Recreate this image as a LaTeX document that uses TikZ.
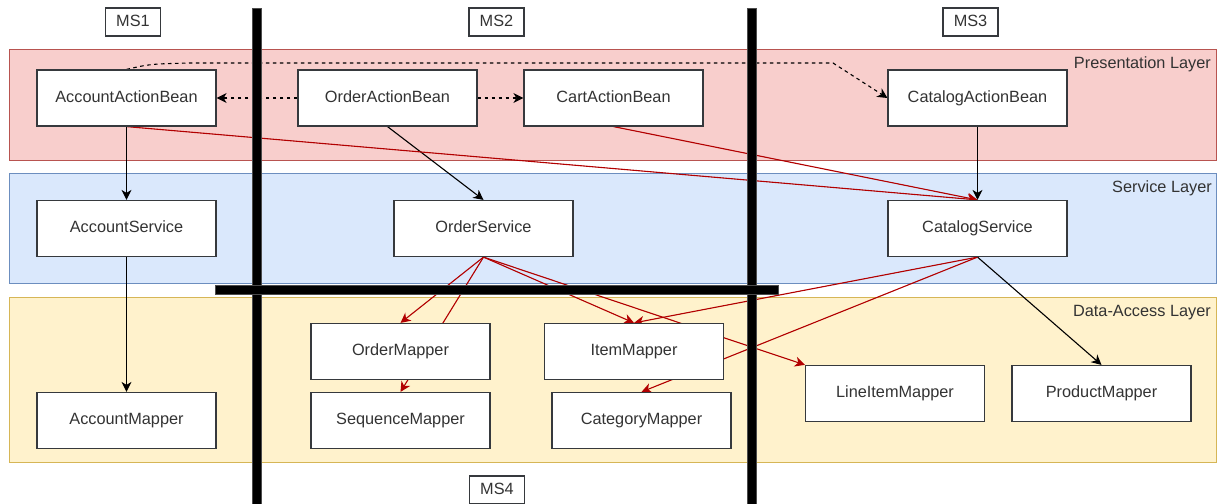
\documentclass[tikz,border=0pt]{standalone}
\usepackage{fontspec}
\setmainfont{Liberation Sans}
\usetikzlibrary{arrows.meta}
\pgfdeclarelayer{bg}
\pgfdeclarelayer{edges}
\pgfdeclarelayer{bars}
\pgfsetlayers{bg,edges,bars,main}
\definecolor{presfill}{HTML}{F8CECC}
\definecolor{presline}{HTML}{B85450}
\definecolor{servfill}{HTML}{DAE8FC}
\definecolor{servline}{HTML}{6C8EBF}
\definecolor{datafill}{HTML}{FFF2CC}
\definecolor{dataline}{HTML}{D6B656}
\definecolor{boxline}{HTML}{36393D}
\definecolor{txt}{HTML}{333333}
\definecolor{redline}{HTML}{B20000}
\begin{document}
\begin{tikzpicture}[x=1pt,y=-1pt,
  font=\fontsize{16.3}{19}\selectfont,
  comp/.style={draw=boxline, fill=white, line width=1.2pt, minimum width=179pt, minimum height=56pt, inner sep=0pt, text=txt, text height=11.7pt, text depth=3.4pt},
  mslabel/.style={draw=boxline, fill=white, line width=1.2pt, minimum width=55pt, minimum height=28pt, inner sep=0pt, text=txt, text height=11.7pt, text depth=3.4pt},
  layerlabel/.style={anchor=east, inner sep=0pt, text=txt, text height=11.7pt, text depth=3.4pt},
  tip/.style={-{Stealth[length=10pt,width=10pt,inset=3pt]}},
  blk/.style={tip, draw=black, line width=1.1pt},
  dsh/.style={tip, draw=black, line width=1.1pt, dash pattern=on 3.5pt off 3.5pt},
  red/.style={tip, draw=redline, fill=redline, line width=1.1pt},
  bar/.style={fill=black, draw=black!70, line width=0.5pt}]
\useasboundingbox (0,0) rectangle (1217,503);

% layers
\begin{pgfonlayer}{bg}
  \fill[white] (0,0) rectangle (1217,503);
  \draw[fill=presfill, draw=presline, line width=1pt] (9.5,50) rectangle (1216,160);
  \draw[fill=servfill, draw=servline, line width=1pt] (9.5,173) rectangle (1216,283);
  \draw[fill=datafill, draw=dataline, line width=1pt] (9.5,297) rectangle (1216,462);
\end{pgfonlayer}

\node[layerlabel] (lp) at (1211,64) {Presentation Layer};
\node[layerlabel] (ls) at (1212,188) {Service Layer};
\node[layerlabel] (ld) at (1211,312) {Data-Access Layer};

% microservice labels
\node[mslabel] (ms1) at (133,22) {MS1};
\node[mslabel] (ms2) at (496.5,22) {MS2};
\node[mslabel] (ms3) at (970.5,22) {MS3};
\node[mslabel] (ms4) at (497,490) {MS4};

% components
\node[comp] (aab) at (126.5,98) {AccountActionBean};
\node[comp] (oab) at (387.5,98) {OrderActionBean};
\node[comp] (cab) at (613.5,98) {CartActionBean};
\node[comp] (catab) at (977.5,98) {CatalogActionBean};
\node[comp] (as) at (126.5,228.5) {AccountService};
\node[comp] (os) at (483.5,228.5) {OrderService};
\node[comp] (cs) at (977.5,228.5) {CatalogService};
\node[comp] (om) at (400.5,351.5) {OrderMapper};
\node[comp] (sm) at (400.5,420.5) {SequenceMapper};
\node[comp] (im) at (634,351.5) {ItemMapper};
\node[comp] (cm) at (641.5,420.5) {CategoryMapper};
\node[comp] (lim) at (895,393.5) {LineItemMapper};
\node[comp] (pm) at (1101.5,393.5) {ProductMapper};
\node[comp] (am) at (126.5,420.5) {AccountMapper};

% partition bars
\begin{pgfonlayer}{bars}
  \draw[bar] (252.5,8) rectangle (261.5,504);
  \draw[bar] (747,8) rectangle (756,504);
  \draw[bar] (215,285) rectangle (778,294);
\end{pgfonlayer}

% connectors
\begin{pgfonlayer}{edges}
  \draw[blk] (aab.south) -- (as.north);
  \draw[blk] (as.south) -- (am.north);
  \draw[blk] (oab.south) -- (os.north);
  \draw[blk] (catab.south) -- (cs.north);
  \draw[blk] (cs.south) -- (pm.north);
  \draw[dsh] (oab.west) -- (aab.east);
  \draw[dsh] (oab.east) -- (cab.west);
  \coordinate (d1) at (190,63);
  \coordinate (d2) at (833,63);
  \draw[dsh] (aab.north) .. controls (150,64) .. (d1) -- (d2) -- (catab.west);
  \draw[red] (aab.south) -- (cs.north);
  \draw[red] (cab.south) -- (cs.north);
  \draw[red] (os.south) -- (om.north);
  \draw[red] (os.south) -- (sm.north);
  \draw[red] (os.south) -- (im.north);
  \draw[red] (os.south) -- (lim.north west);
  \draw[red] (cs.south) -- (im.north);
  \draw[red] (cs.south) -- (cm.north);
\end{pgfonlayer}
\end{tikzpicture}
\end{document}
